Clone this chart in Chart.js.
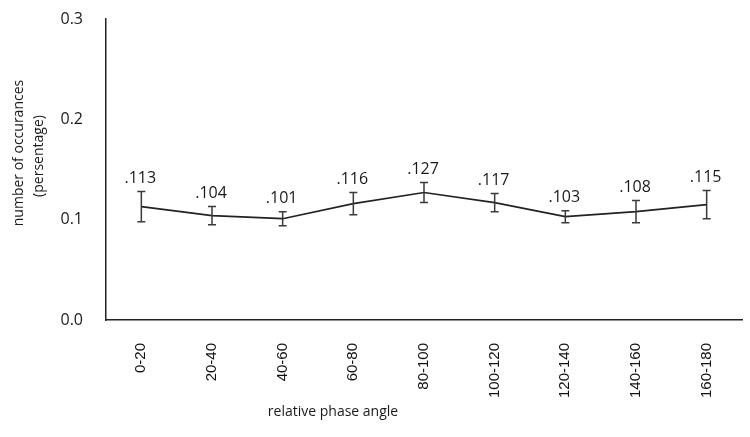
<!DOCTYPE html>
<html>
<head>
<meta charset="utf-8">
<script src="https://cdn.jsdelivr.net/npm/chart.js@4"></script>
<style>
  body { margin: 0; background: #fff; }
  canvas { display: block; }
</style>
</head>
<body>
<canvas id="phaseChart" width="750" height="437"></canvas>
<script>
const categories = ["0-20", "20-40", "40-60", "60-80", "80-100", "100-120", "120-140", "140-160", "160-180"];
const values = [0.113, 0.104, 0.101, 0.116, 0.127, 0.117, 0.103, 0.108, 0.115];
const errors = [0.015, 0.009, 0.007, 0.011, 0.010, 0.009, 0.006, 0.011, 0.014];
const yTicks = [0.0, 0.1, 0.2, 0.3];
const xTitle = "relative phase angle";
const yTitle = ["number of occurances", "(persentage)"];

// error bars, value labels and axis titles
const extrasPlugin = {
  id: "extras",
  afterDatasetsDraw(chart) {
    const ctx = chart.ctx;
    const xs = chart.scales.x;
    const ys = chart.scales.y;
    ctx.save();
    ctx.strokeStyle = "#3a3a3a";
    ctx.lineWidth = 1.5;
    values.forEach((v, i) => {
      const x = xs.getPixelForValue(i);
      const top = ys.getPixelForValue(v + errors[i]);
      const bot = ys.getPixelForValue(v - errors[i]);
      ctx.beginPath();
      ctx.moveTo(x, top); ctx.lineTo(x, bot);
      ctx.moveTo(x - 4, top); ctx.lineTo(x + 4, top);
      ctx.moveTo(x - 4, bot); ctx.lineTo(x + 4, bot);
      ctx.stroke();
      ctx.fillStyle = "#1a1a1a";
      ctx.font = "16px 'Open Sans'";
      ctx.textAlign = "center";
      ctx.textBaseline = "alphabetic";
      ctx.fillText(v.toFixed(3).replace(/^0/, ""), x - 1, top - 9);
    });

    ctx.fillStyle = "#1a1a1a";
    ctx.font = "14px 'Open Sans'";
    ctx.textAlign = "center";
    ctx.textBaseline = "middle";
    ctx.fillText(xTitle, 333, 412);

    ctx.font = "14px 'Open Sans'";
    [[19, 153], [39, 156]].forEach((p, k) => {
      ctx.save();
      ctx.translate(p[0], p[1]);
      ctx.rotate(-Math.PI / 2);
      ctx.fillText(yTitle[k], 0, 0);
      ctx.restore();
    });
    ctx.restore();
  }
};

let ctx = document.getElementById("phaseChart").getContext("2d");
let phaseChart = new Chart(ctx, {
  type: "line",
  data: {
    labels: categories,
    datasets: [
      {
        label: "occurances",
        data: values,
        borderColor: "#222",
        borderWidth: 1.6,
        pointRadius: 0,
        tension: 0,
        fill: false,
      },
    ],
  },
  options: {
    responsive: false,
    animation: false,
    layout: { padding: { top: 19, right: 8, left: 0, bottom: 0 } },
    plugins: {
      legend: { display: false },
      tooltip: { enabled: false },
    },
    scales: {
      x: {
        offset: true,
        grid: { display: false },
        border: { color: "#222", width: 1.5 },
        ticks: {
          minRotation: 90,
          maxRotation: 90,
          padding: 15,
          color: "#111",
          font: { family: "'Liberation Sans', Arial", size: 15 },
        },
        afterFit(scale) {
          scale.height = 117;
          scale.paddingLeft = 0;
          scale.paddingRight = 0;
        },
      },
      y: {
        min: 0,
        max: 0.3,
        grid: { display: false },
        border: { color: "#222", width: 1.5 },
        afterBuildTicks(scale) { scale.ticks = yTicks.map(v => ({ value: v })); },
        ticks: {
          padding: 15,
          color: "#1a1a1a",
          font: { family: "'Open Sans'", size: 16 },
          callback: v => v.toFixed(1),
        },
        afterFit(scale) {
          scale.width = 106;
          scale.paddingTop = 0;
          scale.paddingBottom = 0;
        },
      },
    },
  },
  plugins: [extrasPlugin],
});
</script>
</body>
</html>
